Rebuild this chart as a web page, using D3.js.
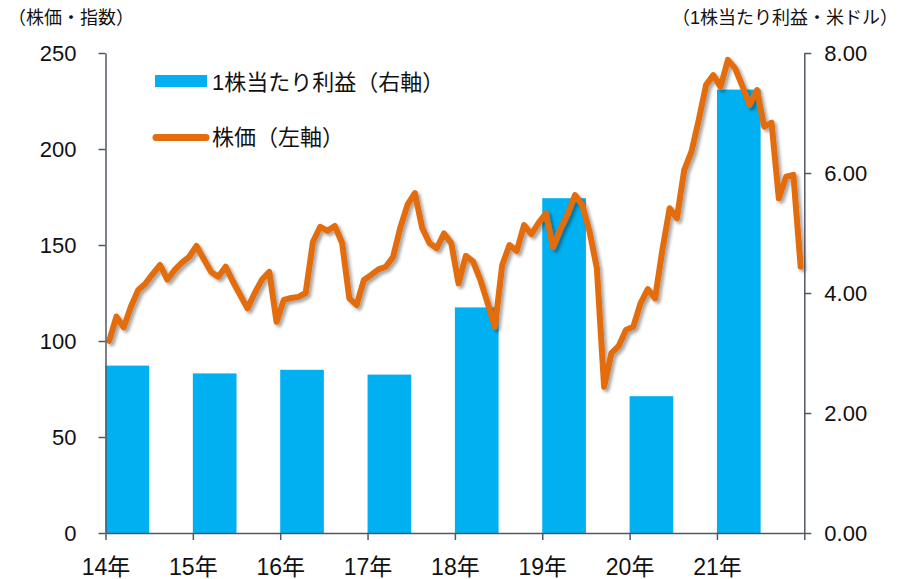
<!DOCTYPE html>
<html>
<head>
<meta charset="utf-8">
<script src="https://cdn.jsdelivr.net/npm/d3@7"></script>
<style>
  body { margin: 0; background: #fff; }
  text { font-family: "Liberation Sans", Arial, "Noto Sans CJK JP", sans-serif; fill: #111; }
  .jp { font-family: "Liberation Sans", "Noto Sans CJK JP", sans-serif; }
</style>
</head>
<body>
<svg id="chart" width="899" height="579"></svg>
<script>
// years on the x axis
const years = [2014, 2015, 2016, 2017, 2018, 2019, 2020, 2021]
const yearLabels = ['14年', '15年', '16年', '17年', '18年', '19年', '20年', '21年']

// 1株当たり利益 (右軸, 米ドル) - one bar per year
const eps = [2.79, 2.66, 2.72, 2.64, 3.76, 5.58, 2.28, 7.39]

// 株価 (左軸, 指数) - monthly, Jan 2014 .. Dec 2021
const price = [
  100, 112.7, 107.1, 118, 126.6, 130, 135, 139.6, 132, 137, 140.8, 143.9,
  149.5, 142.7, 136, 133.5, 138.7, 131, 124, 117, 125, 132, 136, 110,
  121.4, 122.4, 123, 125, 151.7, 159.5, 157.4, 159.9, 151.2, 122.2, 118.8, 131.8,
  134.4, 137.3, 138.7, 143.7, 159, 171, 177, 159, 151, 148.3, 156, 151,
  130, 144.3, 141.3, 131.8, 119.8, 107.4, 139.6, 150, 146.9, 160.4, 155.6, 161.5,
  166.5, 148.8, 158.3, 166, 176, 170.8, 157, 138, 76.2, 93.7, 97.4, 105.7,
  107.4, 119.6, 127, 122.2, 147.4, 169.1, 163.9, 189, 198.6, 215.1, 233.3, 238.5,
  232.4, 246.4, 242, 232.8, 222.9, 230.7, 211.6, 213.7, 174.3, 185.6, 186.5, 138.7
]

const leftTicks = [0, 50, 100, 150, 200, 250]
const rightTicks = [0, 2, 4, 6, 8]

const svg = d3.select('#chart')
const plotLeft = 105.5, plotRight = 804.3, plotTop = 53, plotBottom = 533
const axisColor = '#4f5866'

let x = d3.scaleLinear().domain([2014, 2022]).range([plotLeft, plotRight])
let yL = d3.scaleLinear().domain([0, 250]).range([plotBottom, plotTop])
let yR = d3.scaleLinear().domain([0, 8]).range([plotBottom, plotTop])

// shadow under the price line
let defs = svg.append('defs')
let f = defs.append('filter').attr('id', 'shadow')
  .attr('x', '-5%').attr('y', '-5%').attr('width', '110%').attr('height', '110%')
f.append('feDropShadow')
  .attr('dx', 2.5).attr('dy', 2.5).attr('stdDeviation', 1.6)
  .attr('flood-color', '#000').attr('flood-opacity', 0.35)

// bars
svg.append('g')
  .selectAll('rect.bar')
  .data(eps)
  .enter().append('rect')
    .attr('class', 'bar')
    .attr('x', (d, i) => x(years[i]))
    .attr('width', (d, i) => x(years[i] + 0.5) - x(years[i]))
    .attr('y', d => yR(d))
    .attr('height', d => yR(0) - yR(d))
    .attr('fill', '#00B0F0')

// price line
let line = d3.line()
  .x((d, i) => x(2014 + (i + 0.5) / 12))
  .y(d => yL(d))

svg.append('path')
  .datum(price)
  .attr('d', line)
  .attr('fill', 'none')
  .attr('stroke', '#E36C0F')
  .attr('stroke-width', 6)
  .attr('stroke-linejoin', 'round')
  .attr('stroke-linecap', 'round')
  .attr('filter', 'url(#shadow)')

// axes
function styleAxis(g) {
  g.select('.domain').attr('stroke', axisColor).attr('stroke-width', 1.5)
  g.selectAll('.tick line').attr('stroke', axisColor).attr('stroke-width', 1.5)
  g.selectAll('text').attr('font-size', 22).attr('fill', '#111')
}

svg.append('g')
  .attr('transform', `translate(${plotLeft},0)`)
  .call(d3.axisLeft(yL).tickValues(leftTicks).tickSize(7).tickSizeOuter(0).tickPadding(22))
  .call(styleAxis)

svg.append('g')
  .attr('transform', `translate(${plotRight},0)`)
  .call(d3.axisRight(yR).tickValues(rightTicks).tickSize(7).tickSizeOuter(0).tickPadding(13)
    .tickFormat(d3.format('.2f')))
  .call(styleAxis)

let xAxis = svg.append('g')
  .attr('transform', `translate(0,${plotBottom})`)
  .call(d3.axisBottom(x).tickValues(years.concat([2022])).tickSize(7).tickSizeOuter(0)
    .tickFormat((d, i) => yearLabels[i] || ''))
  .call(styleAxis)
xAxis.selectAll('text').attr('y', 42).attr('dy', 0).attr('font-size', 23)

// axis titles
svg.append('text').attr('class', 'jp')
  .attr('x', 8).attr('y', 24).attr('font-size', 18)
  .text('（株価・指数）')
svg.append('text').attr('class', 'jp')
  .attr('x', 898).attr('y', 24).attr('font-size', 18).attr('text-anchor', 'end')
  .text('（1株当たり利益・米ドル）')

// legend
svg.append('rect')
  .attr('x', 155).attr('y', 75).attr('width', 52).attr('height', 12)
  .attr('fill', '#00B0F0')
svg.append('text').attr('class', 'jp')
  .attr('x', 212).attr('y', 90).attr('font-size', 22)
  .text('1株当たり利益（右軸）')
svg.append('line')
  .attr('x1', 156).attr('x2', 206).attr('y1', 137.5).attr('y2', 137.5)
  .attr('stroke', '#E36C0F').attr('stroke-width', 7).attr('stroke-linecap', 'round')
svg.append('text').attr('class', 'jp')
  .attr('x', 212).attr('y', 145).attr('font-size', 22)
  .text('株価（左軸）')
</script>
</body>
</html>
